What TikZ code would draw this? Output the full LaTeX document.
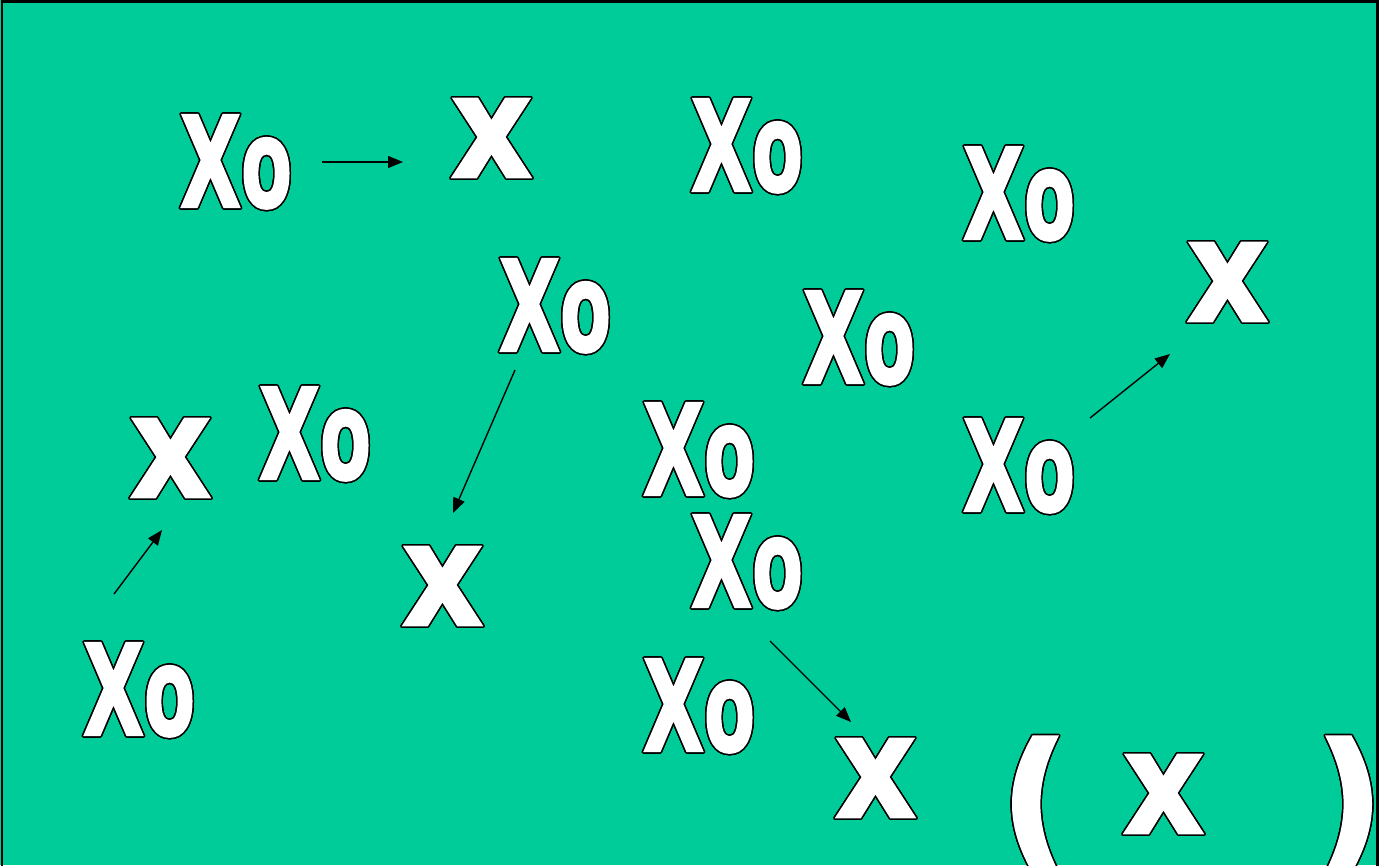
\documentclass[tikz,border=0pt]{standalone}
\usepackage{fontspec}
\setmainfont{DejaVu Sans}
\newfontfamily\glyphfont[FakeBold=1.8]{DejaVu Sans Bold}
\newfontfamily\parenfont[FakeBold=5]{DejaVu Sans Bold}
\usepackage{graphicx}
\usepackage[copies]{contour}
\contourlength{1.5pt}
\contournumber{24}
\usetikzlibrary{arrows.meta}
\definecolor{bg}{RGB}{0,204,153}
\newcommand{\XoGlyph}{\contour{black}{\glyphfont\resizebox{61pt}{92pt}{X}\hspace{0pt}\resizebox{51pt}{69pt}{o}}}
\newcommand{\xGlyph}{\contour{black}{\glyphfont\resizebox{81pt}{78pt}{x}}}
\newcommand{\lpGlyph}{\contour{black}{\parenfont\resizebox*{60pt}{130pt}{(}}}
\newcommand{\rpGlyph}{\contour{black}{\parenfont\resizebox*{60pt}{130pt}{)}}}
\tikzset{
  glyph/.style={anchor=north west, inner sep=0pt, outer sep=0pt, text=white},
  arr/.style={line width=1.4pt, -{Triangle[length=15pt,width=12pt]}}
}
\begin{document}
\begin{tikzpicture}[x=1pt,y=-1pt]
\useasboundingbox (0,0) rectangle (1379,865);
\fill[bg] (0,0) rectangle (1379,865);
\draw[line width=2.5pt] (2,1.5) rectangle (1377.5,880);
% Xo groups
\node[glyph] (xo1) at (180,115) {\XoGlyph};
\node[glyph] (xo2) at (691,99) {\XoGlyph};
\node[glyph] (xo3) at (963,147) {\XoGlyph};
\node[glyph] (xo4) at (499,259) {\XoGlyph};
\node[glyph] (xo5) at (803,291) {\XoGlyph};
\node[glyph] (xo6) at (259,387) {\XoGlyph};
\node[glyph] (xo7) at (643,403) {\XoGlyph};
\node[glyph] (xo8) at (963,419) {\XoGlyph};
\node[glyph] (xo9) at (691,515) {\XoGlyph};
\node[glyph] (xo10) at (83,643) {\XoGlyph};
\node[glyph] (xo11) at (643,659) {\XoGlyph};
% x
\node[glyph] (x1) at (451,99) {\xGlyph};
\node[glyph] (x2) at (1187,243) {\xGlyph};
\node[glyph] (x3) at (130,419) {\xGlyph};
\node[glyph] (x4) at (402,547) {\xGlyph};
\node[glyph] (x5) at (835,739) {\xGlyph};
\node[glyph] (x6) at (1123,755) {\xGlyph};
% parentheses
\node[glyph] (lp) at (1004,739) {\lpGlyph};
\node[glyph] (rp) at (1320,739) {\rpGlyph};
% arrows
\coordinate (a1) at (322,162); \coordinate (a2) at (403,162);
\coordinate (b1) at (515,370); \coordinate (b2) at (453,513);
\coordinate (c1) at (114,594); \coordinate (c2) at (162,530);
\coordinate (d1) at (1090,418); \coordinate (d2) at (1170,354);
\coordinate (e1) at (770,641); \coordinate (e2) at (851,722);
\draw[arr] (a1) -- (a2);
\draw[arr] (b1) -- (b2);
\draw[arr] (c1) -- (c2);
\draw[arr] (d1) -- (d2);
\draw[arr] (e1) -- (e2);
\end{tikzpicture}
\end{document}
